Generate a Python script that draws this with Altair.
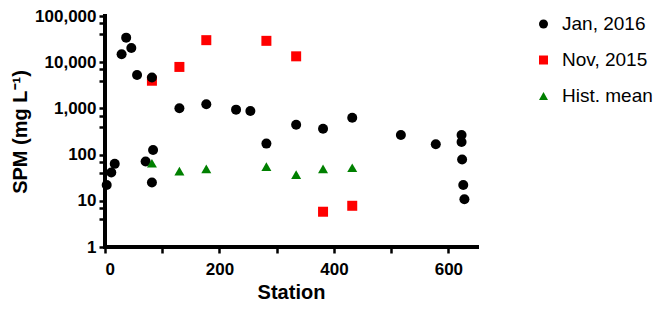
import altair as alt
import pandas as pd

series_names = ["Jan, 2016", "Nov, 2015", "Hist. mean"]
series_colors = ["#000000", "#ff0000", "#008000"]
series_shapes = ["circle", "square", "triangle-up"]

jan_station = [3, 11, 17, 71, 82, 84, 29, 37, 46, 56, 82, 130, 177, 229, 254,
               282, 334, 381, 432, 517, 578, 623, 623, 624, 626, 628]
jan_spm = [22, 41, 63, 71, 25, 126, 14800, 34000, 20300, 5280, 4650, 1010, 1230,
           940, 880, 173, 444, 362, 630, 265, 167, 265, 187, 78, 22, 10.8]

nov_station = [82, 130, 177, 282, 334, 381, 432]
nov_spm = [3970, 7900, 30000, 29000, 13400, 5.8, 7.8]

hist_station = [82, 130, 177, 282, 334, 381, 432]
hist_spm = [65, 44, 49, 55, 37, 49, 52]

x_domain = [0, 650]
y_domain = [1, 100000]
x_ticks = list(range(0, 651, 50))
y_ticks = [1, 4, 7, 10, 40, 70, 100, 400, 700, 1000, 4000, 7000,
           10000, 40000, 70000, 100000]

rows = []
for s, v in zip(nov_station, nov_spm):
    rows.append({"series": series_names[1], "station": s, "spm": v})
for s, v in zip(jan_station, jan_spm):
    rows.append({"series": series_names[0], "station": s, "spm": v})
for s, v in zip(hist_station, hist_spm):
    rows.append({"series": series_names[2], "station": s, "spm": v})
df = pd.DataFrame(rows)

FONT = "Liberation Sans"
major_y = "abs(log(datum.value)/LN10 - round(log(datum.value)/LN10)) < 0.001"
major_x = "datum.value % 200 === 0"

axis_style = dict(domain=False, tickColor="#000000", tickWidth=2.5, tickOpacity=1)

xscale = alt.Scale(domain=x_domain, nice=False, zero=False)
yscale = alt.Scale(type="log", domain=y_domain, nice=False)

points = alt.Chart(df).mark_point(filled=True, size=100, opacity=1, strokeWidth=0).encode(
    x=alt.X("station:Q", scale=xscale,
            axis=alt.Axis(title="Station", values=x_ticks,
                          labelExpr=f"{major_x} ? format(datum.value, 'd') : ''",
                          tickSize=6, labelPadding=8, titlePadding=5, **axis_style)),
    y=alt.Y("spm:Q", scale=yscale,
            axis=alt.Axis(title="SPM (mg L⁻¹)", values=y_ticks,
                          labelExpr=f"{major_y} ? format(datum.value, ',') : ''",
                          tickSize=6, labelPadding=3, titlePadding=4, **axis_style)),
    color=alt.Color("series:N",
                    scale=alt.Scale(domain=series_names, range=series_colors),
                    legend=alt.Legend(title=None, orient="none", legendX=429, legendY=-1.5,
                                      symbolSize=81, labelFontSize=19, labelFont=FONT,
                                      labelFontWeight="normal", labelColor="#000000",
                                      labelOffset=9, rowPadding=16, padding=0,
                                      symbolStrokeWidth=0)),
    shape=alt.Shape("series:N",
                    scale=alt.Scale(domain=series_names, range=series_shapes)),
)

y_axis_line = alt.Chart(df).mark_rule(color="#000000", strokeWidth=3, strokeCap="square").encode(
    x=alt.datum(x_domain[0]),
    y=alt.datum(y_domain[0]),
    y2=alt.datum(y_domain[1]),
)

x_axis_line = alt.Chart(df).mark_rule(color="#000000", strokeWidth=3, strokeCap="square").encode(
    y=alt.datum(y_domain[0]),
    x=alt.datum(x_domain[0]),
    x2=alt.datum(x_domain[1]),
)

chart = alt.layer(points, y_axis_line, x_axis_line).properties(
    width=372,
    height=231,
    autosize=alt.AutoSizeParams(type="none"),
    padding={"left": 97, "top": 8, "right": 181, "bottom": 56},
).configure_view(
    strokeWidth=0
).configure_axis(
    grid=False,
    labelFont=FONT,
    labelFontSize=17,
    labelFontWeight="bold",
    labelColor="#000000",
    titleFont=FONT,
    titleFontSize=20,
    titleFontWeight="bold",
    titleColor="#000000",
    labelOverlap=False,
)

chart.save("out.html", embed_options={"renderer": "svg", "actions": False})
